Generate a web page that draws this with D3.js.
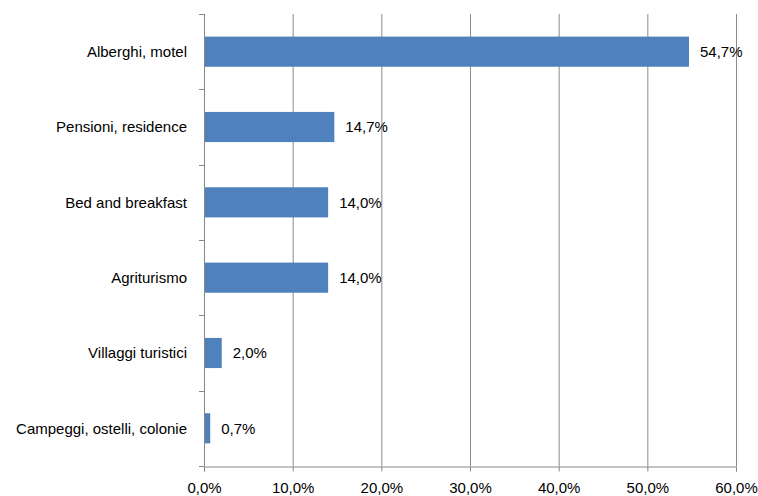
<!DOCTYPE html>
<html>
<head>
<meta charset="utf-8">
<script src="https://cdn.jsdelivr.net/npm/d3@7"></script>
<style>
  body { margin: 0; background: #fff; }
  text { font-family: "Liberation Sans", Arial, sans-serif; fill: #000; }
</style>
</head>
<body>
<script>
// categories top to bottom, with their shares in percent
var categories = ["Alberghi, motel", "Pensioni, residence", "Bed and breakfast",
                  "Agriturismo", "Villaggi turistici", "Campeggi, ostelli, colonie"];
var values = [54.7, 14.7, 14.0, 14.0, 2.0, 0.7];
var xTicks = [0, 10, 20, 30, 40, 50, 60];

var width = 758, height = 496;
var margin = {top: 14, right: 22, bottom: 30, left: 204};

var svg = d3.select("body").append("svg")
            .attr("width", width)
            .attr("height", height);

var x = d3.scaleLinear().domain([0, 60]).range([margin.left, width - margin.right]);
var y = d3.scaleBand().domain(categories)
          .range([margin.top, height - margin.bottom])
          .paddingInner(0.6).paddingOuter(0.3);

var fmt = function(v) { return v.toFixed(1).replace(".", ",") + "%"; };

//vertical grid lines
svg.append("g").selectAll("line")
   .data(xTicks.slice(1))
   .enter().append("line")
   .attr("x1", function(d) { return x(d) + 0.5; })
   .attr("x2", function(d) { return x(d) + 0.5; })
   .attr("y1", margin.top)
   .attr("y2", height - margin.bottom)
   .attr("stroke", "#8c8c8c")
   .attr("stroke-width", 1);

//bars
svg.append("g").selectAll("rect")
   .data(values)
   .enter().append("rect")
   .attr("x", x(0))
   .attr("y", function(d, i) { return y(categories[i]); })
   .attr("width", function(d) { return x(d) - x(0); })
   .attr("height", y.bandwidth())
   .attr("fill", "#4f81bd");

//value labels
svg.append("g").selectAll("text")
   .data(values)
   .enter().append("text")
   .attr("x", function(d) { return x(d) + 11; })
   .attr("y", function(d, i) { return y(categories[i]) + y.bandwidth() / 2; })
   .attr("dy", "0.35em")
   .attr("font-size", "15px")
   .text(fmt);

//x axis
var xAxis = svg.append("g")
   .attr("transform", "translate(0," + (height - margin.bottom + 0.5) + ")")
   .call(d3.axisBottom(x).tickValues(xTicks).tickFormat(fmt).tickSize(5).tickPadding(11));
xAxis.selectAll("text").attr("font-size", "15px").attr("font-family", "Liberation Sans, Arial, sans-serif");

//y axis, ticks between categories
var yEdges = categories.map(function(c) { return y(c) - y.step() * y.paddingInner() / 2; });
yEdges.push(height - margin.bottom);
var yAxis = svg.append("g").attr("class", "yaxis");
yAxis.append("line")
     .attr("x1", x(0) + 0.5).attr("x2", x(0) + 0.5)
     .attr("y1", margin.top).attr("y2", height - margin.bottom);
yAxis.selectAll("line.tick")
     .data(yEdges)
     .enter().append("line")
     .attr("class", "tick")
     .attr("x1", x(0) - 5).attr("x2", x(0))
     .attr("y1", function(d) { return Math.round(d) + 0.5; })
     .attr("y2", function(d) { return Math.round(d) + 0.5; });
yAxis.selectAll("line").attr("stroke", "#868686");

//category labels
svg.append("g").selectAll("text")
   .data(categories)
   .enter().append("text")
   .attr("x", x(0) - 17)
   .attr("y", function(d) { return y(d) + y.bandwidth() / 2; })
   .attr("dy", "0.35em")
   .attr("text-anchor", "end")
   .attr("font-size", "15px")
   .text(function(d) { return d; });

xAxis.select(".domain").attr("stroke", "#868686");
xAxis.selectAll(".tick line").attr("stroke", "#868686");
</script>
</body>
</html>
